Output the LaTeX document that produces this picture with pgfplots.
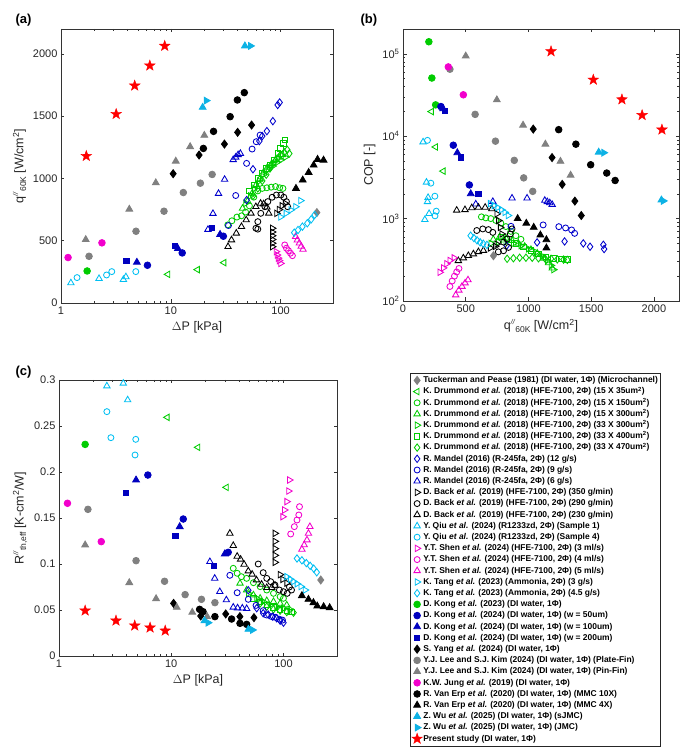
\documentclass[border=0pt]{standalone}
\usepackage{fontspec}
\setmainfont{Liberation Sans}
\usepackage{pgfplots}
\pgfplotsset{compat=1.18}

\definecolor{mgreen}{rgb}{0,0.8,0}
\definecolor{mblue}{rgb}{0,0,0.8}
\definecolor{dblue}{rgb}{0,0,0.75}
\definecolor{mcyan}{rgb}{0,0.75,0.95}
\definecolor{wcyan}{rgb}{0.05,0.7,0.9}
\definecolor{mmag}{rgb}{0.95,0,0.8}
\definecolor{mgray}{rgb}{0.5,0.5,0.5}
\definecolor{mred}{rgb}{1,0,0}

\pgfdeclareplotmark{fstar}{%
 \pgfpathmoveto{\pgfpointpolar{90}{\pgfplotmarksize}}%
 \pgfpathlineto{\pgfpointpolar{126}{0.4\pgfplotmarksize}}%
 \pgfpathlineto{\pgfpointpolar{162}{\pgfplotmarksize}}%
 \pgfpathlineto{\pgfpointpolar{198}{0.4\pgfplotmarksize}}%
 \pgfpathlineto{\pgfpointpolar{234}{\pgfplotmarksize}}%
 \pgfpathlineto{\pgfpointpolar{270}{0.4\pgfplotmarksize}}%
 \pgfpathlineto{\pgfpointpolar{306}{\pgfplotmarksize}}%
 \pgfpathlineto{\pgfpointpolar{342}{0.4\pgfplotmarksize}}%
 \pgfpathlineto{\pgfpointpolar{18}{\pgfplotmarksize}}%
 \pgfpathlineto{\pgfpointpolar{54}{0.4\pgfplotmarksize}}%
 \pgfpathclose
 \pgfusepathqfillstroke}

\newcommand{\dprime}{\raisebox{5.2pt}{\fontsize{7}{7}\selectfont\textit{//}}}
\newcommand{\lsub}[1]{\raisebox{-2.6pt}{\fontsize{8.5}{8.5}\selectfont #1}}
\newcommand{\qlab}{q\dprime\lsub{60K} [W/cm\textsuperscript{2}]}
\newcommand{\rlab}{R\dprime\lsub{th,eff} [K-cm\textsuperscript{2}/W]}
\newcommand{\etal}{\textit{et al.}}

\pgfplotsset{
 panel/.style={scale only axis, clip=true,
   axis line style={line width=0.8pt, draw=black!80},
   every tick/.style={line width=0.5pt, black!80},
   major tick length=3.5pt, minor tick length=2pt,
   tick label style={font=\fontsize{11}{13}\selectfont, text=black!85},
   label style={font=\fontsize{12.5}{15}\selectfont, text=black!85},
   /pgf/number format/assume math mode=true},
 sbase/.style={only marks, line width=0.85pt},
 sTuck/.style={sbase, color=mgray, mark=diamond*, mark size=4pt},
 sDa/.style={sbase, color=mgreen, mark=triangle, mark size=3.7pt, mark options={rotate=90}},
 sDb/.style={sbase, color=mgreen, mark=o, mark size=3pt},
 sDc/.style={sbase, color=mgreen, mark=triangle, mark size=3.7pt},
 sDd/.style={sbase, color=mgreen, mark=triangle, mark size=3.7pt, mark options={rotate=-90}},
 sDe/.style={sbase, color=mgreen, mark=square, mark size=2.7pt},
 sDf/.style={sbase, color=mgreen, mark=diamond, mark size=3.7pt},
 sMa/.style={sbase, color=mblue, mark=diamond, mark size=3.7pt},
 sMb/.style={sbase, color=mblue, mark=o, mark size=3pt},
 sMc/.style={sbase, color=mblue, mark=triangle, mark size=3.7pt},
 sBa/.style={sbase, color=black, mark=triangle, mark size=3.7pt, mark options={rotate=-90}},
 sBb/.style={sbase, color=black, mark=o, mark size=3pt},
 sBc/.style={sbase, color=black, mark=triangle, mark size=3.7pt},
 sQa/.style={sbase, color=mcyan, mark=triangle, mark size=3.7pt},
 sQb/.style={sbase, color=mcyan, mark=o, mark size=3pt},
 sSa/.style={sbase, color=mmag, mark=triangle, mark size=3.7pt, mark options={rotate=-90}},
 sSb/.style={sbase, color=mmag, mark=o, mark size=3pt},
 sSc/.style={sbase, color=mmag, mark=triangle, mark size=3.7pt},
 sTa/.style={sbase, color=mcyan, mark=triangle, mark size=3.7pt, mark options={rotate=-90}},
 sTb/.style={sbase, color=mcyan, mark=diamond, mark size=3.7pt},
 sKa/.style={sbase, color=mgreen, mark=*, mark size=3.3pt},
 sKb/.style={sbase, color=dblue, mark=*, mark size=3.3pt},
 sKc/.style={sbase, color=dblue, mark=triangle*, mark size=3.9pt},
 sKd/.style={sbase, color=dblue, mark=square*, mark size=2.7pt},
 sYa/.style={sbase, color=black, mark=diamond*, mark size=4pt},
 sLa/.style={sbase, color=mgray, mark=*, mark size=3.3pt},
 sLb/.style={sbase, color=mgray, mark=triangle*, mark size=3.9pt},
 sJa/.style={sbase, color=mmag, mark=*, mark size=3.3pt},
 sVa/.style={sbase, color=black, mark=*, mark size=3.3pt},
 sVb/.style={sbase, color=black, mark=triangle*, mark size=3.9pt},
 sWa/.style={sbase, color=wcyan, mark=triangle*, mark size=3.9pt},
 sWb/.style={sbase, color=wcyan, mark=triangle*, mark size=3.9pt, mark options={rotate=-90}},
 sPa/.style={sbase, color=mred, mark=fstar, mark size=5.6pt, line width=0.4pt},
}

\begin{document}
\begin{tikzpicture}[x=1pt,y=1pt]
\path[use as bounding box] (0,0) rectangle (686,755);

\node[anchor=base west, font=\bfseries\fontsize{13}{15}\selectfont] at (12,731) {(a)};
\node[anchor=base west, font=\bfseries\fontsize{13}{15}\selectfont] at (357,731) {(b)};
\node[anchor=base west, font=\bfseries\fontsize{13}{15}\selectfont] at (12,379) {(c)};

%================ (a)
\begin{axis}[panel, at={(61pt,452pt)}, anchor=south west, width=272pt, height=274pt,
  xmode=log, xmin=1, xmax=300, ymin=0, ymax=2200,
  xtick={1,10,100}, xticklabels={1,10,100},
  ytick={0,500,1000,1500,2000}, yticklabels={0,500,1000,1500,2000},
  xlabel={$\Delta$P [kPa]}, ylabel={\qlab}]
\addplot[sTuck] coordinates {(214,726)};
\addplot[sDa] coordinates {(9.4,230) (17.5,268) (30.5,324)};
\addplot[sDb] coordinates {(33,627) (36,660) (40,690) (44,700) (48,730) (52,780) (57,850) (62,900) (68,920) (75,925) (82,930) (90,935) (98,925) (105,920)};
\addplot[sDc] coordinates {(45,760) (50,820) (55,880) (60,950) (65,1000) (70,1050) (76,1090) (83,1120) (90,1150) (97,1170) (104,1190)};
\addplot[sDd] coordinates {(48,800) (53,860) (58,920) (64,980) (70,1030) (77,1070) (85,1100) (93,1130) (101,1150) (110,1170)};
\addplot[sDe] coordinates {(52,900) (57,950) (62,1000) (68,1040) (74,1080) (80,1110) (87,1150) (94,1200) (100,1240) (106,1280) (110,1310)};
\addplot[sDf] coordinates {(56,860) (62,920) (68,980) (74,1030) (80,1080) (86,1120) (93,1160) (100,1190) (108,1210) (115,1230) (120,1200)};
\addplot[sMa] coordinates {(49,826) (56,1074) (64,1300) (68,1340) (75,1380) (85,1460) (94,1590) (98,1610)};
\addplot[sMb] coordinates {(33.5,622) (39,863) (49,1121) (55,1236) (60,1295) (65,1348)};
\addplot[sMc] coordinates {(21.8,590) (24.2,718) (27.2,879) (30.9,992) (37,1150) (39,1170) (41,1190) (43,1200)};
\addplot[sBa] coordinates {(84,452) (84,480) (84,510) (84,540) (84,570) (84,600) (92,720) (97,750) (103,780) (110,800)};
\addplot[sBb] coordinates {(62,593) (59.6,600) (62,653) (66,720) (72,773) (76.5,814) (83.7,849) (91.5,867) (100.6,867) (107,849) (113,814) (116,773)};
\addplot[sBc] coordinates {(33.2,452) (35.7,506) (39.5,560) (44,613) (48.6,667) (53.7,720) (59.5,773) (65.7,800) (70,795) (75,770) (78,720)};
\addplot[sQa] coordinates {(1.23,161) (2.22,196) (3.7,188) (3.9,210)};
\addplot[sQb] coordinates {(1.4,204) (2.6,225) (2.9,252) (4.8,252)};
\addplot[sSa] coordinates {(91,412) (93,385) (95,360) (97,340) (100,318)};
\addplot[sSb] coordinates {(109,466) (113,440) (118,420) (123,400) (128,380)};
\addplot[sSc] coordinates {(137,533) (142,505) (148,480) (154,455) (160,430)};
\addplot[sTa] coordinates {(100,691) (112,720) (124,747) (137,773) (152,822)};
\addplot[sTb] coordinates {(133,565) (144,586) (158,613) (175,640) (190,672) (204,707)};
\addplot[sKa] coordinates {(1.73,257)};
\addplot[sKb] coordinates {(6.13,303) (12.7,402) (30.1,536)};
\addplot[sKc] coordinates {(4.91,327) (11.6,437) (28.1,550)};
\addplot[sKd] coordinates {(3.94,338) (10.9,456) (23.7,603)};
\addplot[sYa] coordinates {(10.5,1038) (18.1,1188) (30.8,1276) (40.6,1370) (54.4,1429)};
\addplot[sLa] coordinates {(1.80,375) (4.82,576) (8.67,737) (13.0,887) (18.6,962) (23.8,1032)};
\addplot[sLb] coordinates {(1.68,509) (4.19,753) (7.30,965) (11.1,1139) (15.0,1255) (20.2,1346)};
\addplot[sJa] coordinates {(1.16,365) (2.36,483)};
\addplot[sVa] coordinates {(19.8,1241) (24.5,1378) (34.7,1496) (40.4,1630) (46.7,1689)};
\addplot[sVb] coordinates {(138,920) (159,987) (180,1048) (200,1107) (217,1153) (246,1147)};
\addplot[sWa] coordinates {(19.5,1571) (47.3,2064)};
\addplot[sWb] coordinates {(21.0,1625) (53.2,2064)};
\addplot[sPa] coordinates {(1.70,1180) (3.18,1517) (4.69,1745) (6.44,1906) (8.80,2064)};
\end{axis}

%================ (b)
\begin{axis}[panel, at={(403pt,454pt)}, anchor=south west, width=276pt, height=272pt,
  xmin=0, xmax=2200, ymode=log, ymin=100, ymax=200000,
  xtick={0,500,1000,1500,2000}, xticklabels={0,500,1000,1500,2000},
  ytick={100,1000,10000,100000},
  yticklabels={10\textsuperscript{2},10\textsuperscript{3},10\textsuperscript{4},10\textsuperscript{5}},
  xlabel={\qlab}, ylabel={COP [-]}]
\addplot[sTuck] coordinates {(721,354)};
\addplot[sDa] coordinates {(227,19900) (260,7400) (321,3770)};
\addplot[sDb] coordinates {(625,1050) (660,1020) (700,1000) (740,950) (780,880) (820,800) (860,700) (900,620) (940,560)};
\addplot[sDc] coordinates {(720,560) (770,600) (820,580) (870,540) (920,500) (970,460) (1020,420) (1070,380) (1120,330) (1160,290) (1190,250)};
\addplot[sDd] coordinates {(700,500) (760,520) (820,520) (880,500) (940,470) (1000,430) (1060,390) (1110,350) (1150,310) (1180,270) (1200,240)};
\addplot[sDe] coordinates {(780,600) (840,560) (900,500) (960,450) (1020,410) (1080,370) (1140,340) (1200,330) (1260,325) (1310,320)};
\addplot[sDf] coordinates {(830,325) (880,330) (930,335) (980,335) (1030,335) (1080,330) (1130,330) (1180,325) (1230,320) (1280,318) (1310,315)};
\addplot[sMa] coordinates {(826,470) (1069,514) (1288,528) (1437,500) (1491,456) (1597,481) (1603,427)};
\addplot[sMb] coordinates {(861,806) (1117,838) (1242,798) (1296,770) (1344,728) (1368,662)};
\addplot[sMc] coordinates {(580,1500) (716,1610) (869,1770) (989,1770) (1130,1660) (1150,1600) (1170,1550) (1189,1480)};
\addplot[sBa] coordinates {(748,1140) (761,946) (775,783) (788,650) (748,490) (735,460) (695,440)};
\addplot[sBb] coordinates {(588,717) (636,749) (681,735) (716,680) (760,395) (801,407) (841,447) (801,519) (828,565) (855,650) (869,750)};
\addplot[sBc] coordinates {(428,1260) (494,1280) (548,1350) (601,1370) (655,1370) (708,1310) (441,308) (481,332) (521,355) (561,372) (601,396) (641,410)};
\addplot[sQa] coordinates {(160,8500) (187,2760) (200,1800) (195,1600) (208,1150) (174,970)};
\addplot[sQb] coordinates {(195,8900) (222,2690) (254,1870) (265,1230) (255,1080)};
\addplot[sSa] coordinates {(294,223) (321,252) (348,283) (374,310) (406,334)};
\addplot[sSb] coordinates {(374,150) (392,175) (410,200) (428,225) (446,248)};
\addplot[sSc] coordinates {(420,118) (445,135) (470,150) (495,165) (518,180)};
\addplot[sTa] coordinates {(695,1520) (725,1440) (755,1360) (785,1280) (812,1190) (838,1090)};
\addplot[sTb] coordinates {(539,620) (565,580) (590,545) (615,515) (640,495) (669,480)};
\addplot[sKa] coordinates {(206,140000) (230,50800) (260,24000)};
\addplot[sKb] coordinates {(302,22900) (401,7770) (529,2560)};
\addplot[sKc] coordinates {(320,21500) (433,6300) (540,2000)};
\addplot[sKd] coordinates {(334,20200) (460,5500) (601,2000)};
\addplot[sYa] coordinates {(1038,12200) (1188,5500) (1269,2600) (1370,1630) (1421,1090)};
\addplot[sLa] coordinates {(374,65000) (575,18400) (737,8700) (887,5090) (962,3120) (1034,2140)};
\addplot[sLb] coordinates {(500,94000) (748,27600) (957,13600) (1135,8000) (1255,4950) (1336,3360)};
\addplot[sJa] coordinates {(361,69300) (481,31800)};
\addplot[sVa] coordinates {(1241,12000) (1378,8000) (1496,4500) (1624,3570) (1691,2900)};
\addplot[sVb] coordinates {(914,1000) (983,877) (1042,783) (1095,632) (1143,554) (1143,440)};
\addplot[sWa] coordinates {(1560,6400) (2060,1680)};
\addplot[sWb] coordinates {(1600,6300) (2075,1640)};
\addplot[sPa] coordinates {(1180,107000) (1517,48400) (1745,27900) (1906,18000) (2064,12000)};
\end{axis}

%================ (c)
\begin{axis}[panel, at={(59pt,99pt)}, anchor=south west, width=278pt, height=276pt,
  xmode=log, xmin=1, xmax=300, ymin=0, ymax=0.3,
  xtick={1,10,100}, xticklabels={1,10,100},
  ytick={0,0.05,0.1,0.15,0.2,0.25,0.3}, yticklabels={0,0.05,0.1,0.15,0.2,0.25,0.3},
  xlabel={$\Delta$P [kPa]}, ylabel={\rlab},
  legend image code/.code={\draw[mark repeat=2,mark phase=2,#1] plot coordinates {(0pt,0pt) (7pt,0pt) (14pt,0pt)};},
  legend cell align=left,
  legend style={at={(1.2626,1.0254)}, anchor=north west, draw=black!85, line width=0.6pt, fill=white,
    font=\bfseries\fontsize{8.45}{9.5}\selectfont, text=black, inner sep=1.5pt, row sep=0pt,
    nodes={inner sep=0.9pt, text height=7.1pt, text depth=2.3pt}}]
\addplot[sTuck] coordinates {(215,0.0826)};
\addlegendentry{Tuckerman and Pease  (1981) (DI water, 1Φ) (Microchannel)}
\addplot[sDa] coordinates {(9.22,0.2594) (17.3,0.2268) (31,0.1833)};
\addlegendentry{K. Drummond \etal{} (2018) (HFE-7100, 2Φ) (15 X 35um\textsuperscript{2})}
\addplot[sDb] coordinates {(35.7,0.0953) (38.7,0.0899) (42.2,0.0862) (47,0.0844) (54,0.0797) (62,0.0754) (71,0.0717) (81.5,0.0681) (93.4,0.0645) (100,0.0627)};
\addlegendentry{K. Drummond \etal{} (2018) (HFE-7100, 2Φ) (15 X 150um\textsuperscript{2})}
\addplot[sDc] coordinates {(41,0.079) (47,0.0717) (54,0.0663) (62,0.0627) (71,0.0601) (81.5,0.0591) (93.4,0.0572) (107,0.0554)};
\addlegendentry{K. Drummond \etal{} (2018) (HFE-7100, 2Φ) (15 X 300um\textsuperscript{2})}
\addplot[sDd] coordinates {(48.6,0.0681) (57.8,0.0627) (66,0.0591) (76,0.0554) (87,0.0536) (100,0.0518) (114,0.0507)};
\addlegendentry{K. Drummond \etal{} (2018) (HFE-7100, 2Φ) (33 X 300um\textsuperscript{2})}
\addplot[sDe] coordinates {(54,0.0627) (62,0.0591) (71,0.0554) (81.5,0.0529) (93.4,0.0507) (107,0.0493) (118,0.0482)};
\addlegendentry{K. Drummond \etal{} (2018) (HFE-7100, 2Φ) (33 X 400um\textsuperscript{2})}
\addplot[sDf] coordinates {(62,0.0572) (71,0.0536) (81.5,0.0507) (93.4,0.0493) (107,0.0478) (123,0.0471)};
\addlegendentry{K. Drummond \etal{} (2018) (HFE-7100, 2Φ) (33 X 470um\textsuperscript{2})}
\addplot[sMa] coordinates {(48.6,0.0714) (57.8,0.052) (66,0.0465) (73.2,0.045) (80.4,0.0428) (87,0.041) (93.4,0.0384) (100,0.0362)};
\addlegendentry{R. Mandel (2016) (R-245fa, 2Φ) (12 g/s)}
\addplot[sMb] coordinates {(33.3,0.0877) (38.7,0.0688) (48.6,0.0616) (57,0.055) (66,0.0493) (70.6,0.0446) (78.6,0.0428) (85,0.042) (92,0.040) (98,0.039)};
\addlegendentry{R. Mandel (2016) (R-245fa, 2Φ) (9 g/s)}
\addplot[sMc] coordinates {(22.1,0.1025) (24.4,0.0844) (27.1,0.0699) (31,0.0609) (35.7,0.053) (39,0.0522) (43,0.052) (47,0.0515)};
\addlegendentry{R. Mandel (2016) (R-245fa, 2Φ) (6 g/s)}
\addplot[sBa] coordinates {(84,0.1333) (84,0.1246) (84,0.1167) (84,0.1094) (84,0.1018) (93.4,0.0884) (98.5,0.0833) (107,0.0793)};
\addlegendentry{D. Back \etal{} (2019) (HFE-7100, 2Φ) (350 g/min)}
\addplot[sBb] coordinates {(59.6,0.1000) (66,0.0906) (71,0.0844) (77,0.0808) (84,0.0772) (92,0.0717) (100,0.0699) (108,0.0681) (118,0.0717) (113,0.075)};
\addlegendentry{D. Back \etal{} (2019) (HFE-7100, 2Φ) (290 g/min)}
\addplot[sBc] coordinates {(33.3,0.1333) (35.7,0.12) (38.7,0.1083) (41.5,0.1051) (44.6,0.0996) (48.6,0.0924) (52.6,0.0888) (57.5,0.0826) (63.8,0.0779) (71,0.0743) (78.6,0.0743) (84,0.0768)};
\addlegendentry{D. Back \etal{} (2019) (HFE-7100, 2Φ) (230 g/min)}
\addplot[sQa] coordinates {(2.67,0.2935) (3.74,0.2964) (4.09,0.2783)};
\addlegendentry{Y. Qiu \etal{} (2024) (R1233zd, 2Φ) (Sample 1)}
\addplot[sQb] coordinates {(2.67,0.2656) (2.90,0.2373) (4.83,0.2355) (4.76,0.2185)};
\addlegendentry{Y. Qiu \etal{} (2024) (R1233zd, 2Φ) (Sample 4)}
\addplot[sSa] coordinates {(113,0.1913) (111,0.1793) (107,0.1678) (102,0.1587) (98.5,0.1514)};
\addlegendentry{Y.T. Shen \etal{} (2024) (HFE-7100, 2Φ) (3 ml/s)}
\addplot[sSb] coordinates {(139,0.1623) (137,0.1533) (132,0.1478) (125,0.1406) (116,0.1326)};
\addlegendentry{Y.T. Shen \etal{} (2024) (HFE-7100, 2Φ) (4 ml/s)}
\addplot[sSc] coordinates {(172,0.1406) (167,0.1333) (162,0.1261) (153,0.1207) (146,0.1159)};
\addlegendentry{Y.T. Shen \etal{} (2024) (HFE-7100, 2Φ) (5 ml/s)}
\addplot[sTa] coordinates {(107,0.0862) (115,0.0835) (123,0.081) (132,0.0785) (143,0.0755) (156,0.0717)};
\addlegendentry{K. Tang \etal{} (2023) (Ammonia, 2Φ) (3 g/s)}
\addplot[sTb] coordinates {(132,0.106) (146,0.104) (160,0.101) (173,0.098) (186,0.095) (198,0.091)};
\addlegendentry{K. Tang \etal{} (2023) (Ammonia, 2Φ) (4.5 g/s)}
\addplot[sKa] coordinates {(1.71,0.230)};
\addlegendentry{D. Kong \etal{} (2023) (DI water, 1Φ)}
\addplot[sKb] coordinates {(6.19,0.1967) (12.8,0.1489) (32.2,0.1127)};
\addlegendentry{D. Kong \etal{} (2024) (DI water, 1Φ) (w = 50um)}
\addplot[sKc] coordinates {(4.86,0.1913) (11.9,0.1406) (30.0,0.1109)};
\addlegendentry{D. Kong \etal{} (2024) (DI water, 1Φ) (w = 100um)}
\addplot[sKd] coordinates {(3.95,0.1775) (10.9,0.1304) (24.1,0.0982)};
\addlegendentry{D. Kong \etal{} (2024) (DI water, 1Φ) (w = 200um)}
\addplot[sYa] coordinates {(10.5,0.0572) (18.3,0.0435) (30.6,0.0457) (40.9,0.0428) (54.6,0.0417)};
\addlegendentry{S. Yang \etal{} (2024) (DI water, 1Φ)}
\addplot[sLa] coordinates {(1.81,0.1594) (4.86,0.1036) (8.72,0.0812) (13.3,0.0667) (18.6,0.0616) (24.5,0.058)};
\addlegendentry{Y.J. Lee and S.J. Kim  (2024) (DI water, 1Φ) (Plate-Fin)}
\addplot[sLb] coordinates {(1.71,0.1207) (4.23,0.0797) (7.33,0.0623) (11.2,0.0529) (15.4,0.0475) (20.9,0.0428)};
\addlegendentry{Y.J. Lee and S.J. Kim  (2024) (DI water, 1Φ) (Pin-Fin)}
\addplot[sJa] coordinates {(1.19,0.166) (2.38,0.1243)};
\addlegendentry{K.W. Jung \etal{} (2019) (DI water, 1Φ)}
\addplot[sVa] coordinates {(17.9,0.0507) (19.2,0.0482) (24.5,0.0428) (34.5,0.0402) (41.0,0.0355) (47.0,0.0344)};
\addlegendentry{R. Van Erp \etal{} (2020) (DI water, 1Φ) (MMC 10X)}
\addplot[sVb] coordinates {(146,0.0656) (167,0.0616) (185,0.058) (200,0.0543) (228,0.0536) (258,0.0525)};
\addlegendentry{R. Van Erp \etal{} (2020) (DI water, 1Φ) (MMC 4X)}
\addplot[sWa] coordinates {(19.8,0.0384) (48.7,0.029)};
\addlegendentry{Z. Wu \etal{} (2025) (DI water, 1Φ) (sJMC)}
\addplot[sWb] coordinates {(21.3,0.0362) (53,0.0283)};
\addlegendentry{Z. Wu \etal{} (2025) (DI water, 1Φ) (JMC)}
\addplot[sPa] coordinates {(1.71,0.0493) (3.22,0.0384) (4.73,0.033) (6.48,0.0308) (8.84,0.0275)};
\addlegendentry{Present study  (DI water, 1Φ)}
\end{axis}
\end{tikzpicture}
\end{document}
